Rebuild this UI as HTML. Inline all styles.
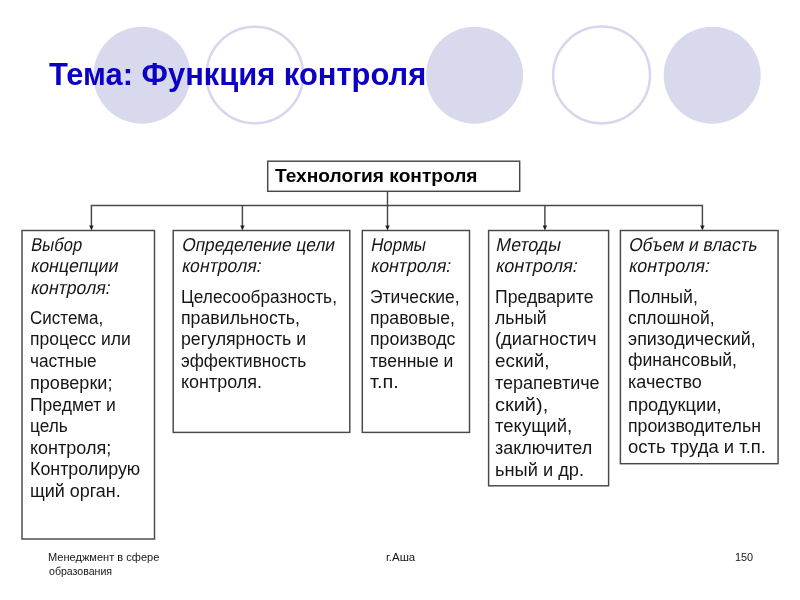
<!DOCTYPE html>
<html><head><meta charset="utf-8">
<style>
html,body{margin:0;padding:0;background:#fff;}
body{width:800px;height:600px;position:relative;overflow:hidden;font-family:"Liberation Sans",sans-serif;color:#000;}
svg{position:absolute;left:0;top:0;}
.t{position:absolute;white-space:nowrap;line-height:1;}
.title{font-size:30.6px;font-weight:bold;color:#0b00c2;}
.hd{font-weight:bold;font-size:18.6px;color:#000;}
.b{font-size:18.7px;color:#161616;}
.i{font-size:18.7px;color:#161616;}
.f{font-size:10.9px;color:#161616;}
</style></head><body>
<svg width="800" height="600" viewBox="0 0 800 600">
<g fill="#d9d9ed">
<circle cx="141.9" cy="75.2" r="48.5"/>
<circle cx="474.6" cy="75.2" r="48.5"/>
<circle cx="712.2" cy="75.2" r="48.5"/>
</g>
<g fill="none" stroke="#d6d6ec" stroke-width="2.5">
<circle cx="254.8" cy="75" r="48.3"/>
<circle cx="601.6" cy="75" r="48.4"/>
</g>
<g fill="none" stroke="#484848" stroke-width="1.45">
<rect x="267.7" y="161.2" width="252" height="30.1"/>
<rect x="22" y="230.5" width="132.5" height="308.5"/>
<rect x="173.2" y="230.5" width="176.6" height="201.9"/>
<rect x="362.3" y="230.5" width="107.2" height="201.9"/>
<rect x="488.6" y="230.5" width="120" height="255.3"/>
<rect x="620.4" y="230.5" width="157.7" height="233.2"/>
<path d="M387.5 191.5V227 M91.4 227V205.5H702.4V227 M242.4 205.5V227 M544.9 205.5V227"/>
</g>
<g fill="#222">
<path d="M89.2 225.6h4.4l-2.2 4.8z M240.2 225.6h4.4l-2.2 4.8z M385.3 225.6h4.4l-2.2 4.8z M542.7 225.6h4.4l-2.2 4.8z M700.2 225.6h4.4l-2.2 4.8z"/>
</g>
</svg>
<div id="tx" style="position:absolute;left:0;top:0;width:800px;height:600px;will-change:transform;">
<div class="t i" style="left:29.80px;top:236.00px;transform:scaleX(0.8900) skewX(-12deg);transform-origin:0 84.65%">Выбор</div>
<div class="t i" style="left:29.80px;top:257.00px;transform:scaleX(0.9525) skewX(-12deg);transform-origin:0 84.65%">концепции</div>
<div class="t i" style="left:29.80px;top:279.00px;transform:scaleX(0.9437) skewX(-12deg);transform-origin:0 84.65%">контроля:</div>
<div class="t b" style="left:29.80px;top:309.00px;transform:scaleX(0.9100);transform-origin:0 0">Система,</div>
<div class="t b" style="left:29.80px;top:330.00px;transform:scaleX(0.9377);transform-origin:0 0">процесс или</div>
<div class="t b" style="left:29.80px;top:352.00px;transform:scaleX(0.9230);transform-origin:0 0">частные</div>
<div class="t b" style="left:29.80px;top:374.00px;transform:scaleX(0.9669);transform-origin:0 0">проверки;</div>
<div class="t b" style="left:29.80px;top:396.00px;transform:scaleX(0.9385);transform-origin:0 0">Предмет и</div>
<div class="t b" style="left:29.80px;top:417.00px;transform:scaleX(0.9226);transform-origin:0 0">цель</div>
<div class="t b" style="left:29.80px;top:439.00px;transform:scaleX(0.9636);transform-origin:0 0">контроля;</div>
<div class="t b" style="left:29.80px;top:460.00px;transform:scaleX(0.9552);transform-origin:0 0">Контролирую</div>
<div class="t b" style="left:29.80px;top:482.00px;transform:scaleX(0.9597);transform-origin:0 0">щий орган.</div>
<div class="t i" style="left:181.30px;top:236.00px;transform:scaleX(0.9263) skewX(-12deg);transform-origin:0 84.65%">Определение цели</div>
<div class="t i" style="left:181.30px;top:257.00px;transform:scaleX(0.9448) skewX(-12deg);transform-origin:0 84.65%">контроля:</div>
<div class="t b" style="left:181.30px;top:288.00px;transform:scaleX(0.9247);transform-origin:0 0">Целесообразность,</div>
<div class="t b" style="left:181.30px;top:309.00px;transform:scaleX(0.9488);transform-origin:0 0">правильность,</div>
<div class="t b" style="left:181.30px;top:330.00px;transform:scaleX(0.9488);transform-origin:0 0">регулярность и</div>
<div class="t b" style="left:181.30px;top:352.00px;transform:scaleX(0.9178);transform-origin:0 0">эффективность</div>
<div class="t b" style="left:181.30px;top:373.00px;transform:scaleX(0.9619);transform-origin:0 0">контроля.</div>
<div class="t i" style="left:370.40px;top:236.00px;transform:scaleX(0.9043) skewX(-12deg);transform-origin:0 84.65%">Нормы</div>
<div class="t i" style="left:370.40px;top:257.00px;transform:scaleX(0.9505) skewX(-12deg);transform-origin:0 84.65%">контроля:</div>
<div class="t b" style="left:370.40px;top:288.00px;transform:scaleX(0.9323);transform-origin:0 0">Этические,</div>
<div class="t b" style="left:370.40px;top:309.00px;transform:scaleX(0.9435);transform-origin:0 0">правовые,</div>
<div class="t b" style="left:370.40px;top:330.00px;transform:scaleX(0.9507);transform-origin:0 0">производс</div>
<div class="t b" style="left:370.40px;top:352.00px;transform:scaleX(0.9397);transform-origin:0 0">твенные и</div>
<div class="t b" style="left:370.40px;top:373.00px;transform:scaleX(1.0665);transform-origin:0 0">т.п.</div>
<div class="t i" style="left:494.70px;top:236.00px;transform:scaleX(0.9484) skewX(-12deg);transform-origin:0 84.65%">Методы</div>
<div class="t i" style="left:494.70px;top:257.00px;transform:scaleX(0.9690) skewX(-12deg);transform-origin:0 84.65%">контроля:</div>
<div class="t b" style="left:494.70px;top:288.00px;transform:scaleX(0.9429);transform-origin:0 0">Предварите</div>
<div class="t b" style="left:494.70px;top:309.00px;transform:scaleX(0.9417);transform-origin:0 0">льный</div>
<div class="t b" style="left:494.70px;top:330.00px;transform:scaleX(0.9816);transform-origin:0 0">(диагностич</div>
<div class="t b" style="left:494.70px;top:352.00px;transform:scaleX(1.0085);transform-origin:0 0">еский,</div>
<div class="t b" style="left:494.70px;top:374.00px;transform:scaleX(0.9626);transform-origin:0 0">терапевтиче</div>
<div class="t b" style="left:494.70px;top:396.00px;transform:scaleX(1.0675);transform-origin:0 0">ский),</div>
<div class="t b" style="left:494.70px;top:417.00px;transform:scaleX(0.9908);transform-origin:0 0">текущий,</div>
<div class="t b" style="left:494.70px;top:439.00px;transform:scaleX(0.9613);transform-origin:0 0">заключител</div>
<div class="t b" style="left:494.70px;top:461.00px;transform:scaleX(0.9756);transform-origin:0 0">ьный и др.</div>
<div class="t i" style="left:627.90px;top:236.00px;transform:scaleX(0.9250) skewX(-12deg);transform-origin:0 84.65%">Объем и власть</div>
<div class="t i" style="left:627.90px;top:257.00px;transform:scaleX(0.9585) skewX(-12deg);transform-origin:0 84.65%">контроля:</div>
<div class="t b" style="left:627.90px;top:288.00px;transform:scaleX(0.9486);transform-origin:0 0">Полный,</div>
<div class="t b" style="left:627.90px;top:309.00px;transform:scaleX(0.9393);transform-origin:0 0">сплошной,</div>
<div class="t b" style="left:627.90px;top:330.00px;transform:scaleX(0.9572);transform-origin:0 0">эпизодический,</div>
<div class="t b" style="left:627.90px;top:351.00px;transform:scaleX(0.9415);transform-origin:0 0">финансовый,</div>
<div class="t b" style="left:627.90px;top:373.00px;transform:scaleX(0.9627);transform-origin:0 0">качество</div>
<div class="t b" style="left:627.90px;top:396.00px;transform:scaleX(0.9778);transform-origin:0 0">продукции,</div>
<div class="t b" style="left:627.90px;top:417.00px;transform:scaleX(0.9493);transform-origin:0 0">производительн</div>
<div class="t b" style="left:627.90px;top:438.00px;transform:scaleX(0.9861);transform-origin:0 0">ость труда и т.п.</div>
<div class="t hd" style="left:274.80px;top:167.00px;transform:scaleX(1.0291);transform-origin:0 0">Технология контроля</div>
<div class="t title" style="left:49.30px;top:59.00px;transform:scaleX(1.0097);transform-origin:0 0">Тема: Функция контроля</div>
<div class="t f" style="left:48.05px;top:552.00px;transform:scaleX(1.0149);transform-origin:0 0">Менеджмент в сфере</div>
<div class="t f" style="left:49.05px;top:566.00px;transform:scaleX(0.9715);transform-origin:0 0">образования</div>
<div class="t f" style="left:385.55px;top:552.00px;transform:scaleX(1.0537);transform-origin:0 0">г.Аша</div>
<div class="t f" style="left:735.00px;top:552.00px;transform:scaleX(0.9994);transform-origin:0 0">150</div>
</div>
</body></html>
